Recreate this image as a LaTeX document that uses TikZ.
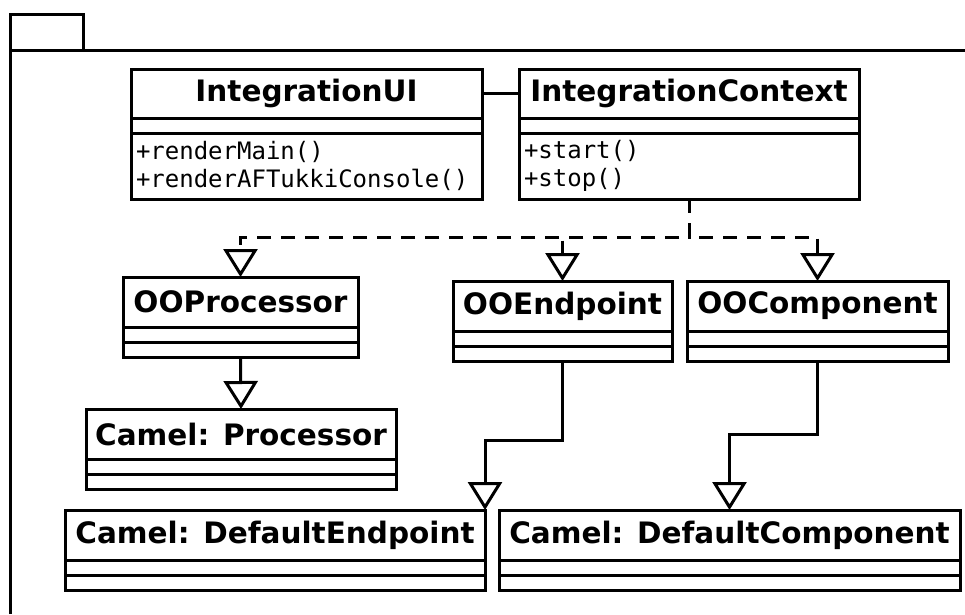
\documentclass[tikz,border=0pt]{standalone}
\usepackage{fontspec}
\setmainfont{DejaVu Sans}
\setmonofont{DejaVu Sans Mono}
\usetikzlibrary{arrows.meta,positioning}

\begin{document}
\begin{tikzpicture}[x=1pt,y=-1pt,line width=3pt,
        every node/.style={draw,outer sep=0pt,inner sep=0pt}]
      \tikzstyle{title} = [font=\fontsize{29.5}{34}\selectfont\bfseries,minimum height=50pt,anchor=north west]
      \tikzstyle{attr} = [minimum height=15pt]
      \tikzstyle{ops} = [font=\fontsize{24}{28}\selectfont\ttfamily,minimum height=66pt,align=left,inner xsep=5pt]
      \tikzstyle{gen} = [-{Triangle[open,width=34pt,length=28pt]}]
      \tikzstyle{real} = [gen,dash pattern=on 14pt off 10pt]
      \useasboundingbox (0,0) rectangle (965,614);
      % package frame
      \draw (10,614) -- (10,14) -- (83,14) -- (83,50);
      \draw (10,50) -- (965,50);
      % top classes
      \node (ui) [title,minimum width=351pt,minimum height=49pt] at (131,69) {IntegrationUI};
      \node (ui-a) [attr,minimum width=351pt,below=0pt of ui] {};
      \node (ui-o) [ops,text width=341pt,below=0pt of ui-a] {+renderMain()\\+renderAFTukkiConsole()};
      \node (ctx) [title,minimum width=340pt,minimum height=49pt] at (519,69) {IntegrationContext};
      \node (ctx-a) [attr,minimum width=340pt,below=0pt of ctx] {};
      \node (ctx-o) [ops,text width=330pt,below=0pt of ctx-a] {+start()\\+stop()};
      % OO classes
      \node (oop) [title,minimum width=235pt] at (123,277) {OOProcessor};
      \node (oop-a) [attr,minimum width=235pt,below=0pt of oop] {};
      \node (oop-b) [attr,minimum width=235pt,below=0pt of oop-a] {};
      \node (ooe) [title,minimum width=219pt] at (453,281) {OOEndpoint};
      \node (ooe-a) [attr,minimum width=219pt,below=0pt of ooe] {};
      \node (ooe-b) [attr,minimum width=219pt,below=0pt of ooe-a] {};
      \node (ooc) [title,minimum width=261pt] at (687,281) {OOComponent};
      \node (ooc-a) [attr,minimum width=261pt,below=0pt of ooc] {};
      \node (ooc-b) [attr,minimum width=261pt,below=0pt of ooc-a] {};
      % Camel classes
      \node (cp) [title,minimum width=310pt] at (86,409) {Camel: Processor};
      \node (cp-a) [attr,minimum width=310pt,below=0pt of cp] {};
      \node (cp-b) [attr,minimum width=310pt,below=0pt of cp-a] {};
      \node (cde) [title,minimum width=420pt] at (65,510) {Camel: DefaultEndpoint};
      \node (cde-a) [attr,minimum width=420pt,below=0pt of cde] {};
      \node (cde-b) [attr,minimum width=420pt,below=0pt of cde-a] {};
      \node (cdc) [title,minimum width=461pt] at (499,510) {Camel: DefaultComponent};
      \node (cdc-a) [attr,minimum width=461pt,below=0pt of cdc] {};
      \node (cdc-b) [attr,minimum width=461pt,below=0pt of cdc-a] {};
      % connectors
      \draw (ui.east) -- (ctx.west);
      \coordinate (fork) at ([yshift=-38pt]ctx-o.south);
      \draw[real] (ctx-o.south) -- (fork) -| (oop.north);
      \draw[real] (ctx-o.south) -- (fork) -| (ooe.north);
      \draw[real] (ctx-o.south) -- (fork) -| (ooc.north);
      \draw[gen] (oop-b.south) -- (cp.north);
      \draw[gen] (ooe-b.south) -- ++(0,79) -| (cde.north east);
      \draw[gen] (ooc-b.south) -- ++(0,73) -| (cdc.north);
    \end{tikzpicture}
\end{document}
